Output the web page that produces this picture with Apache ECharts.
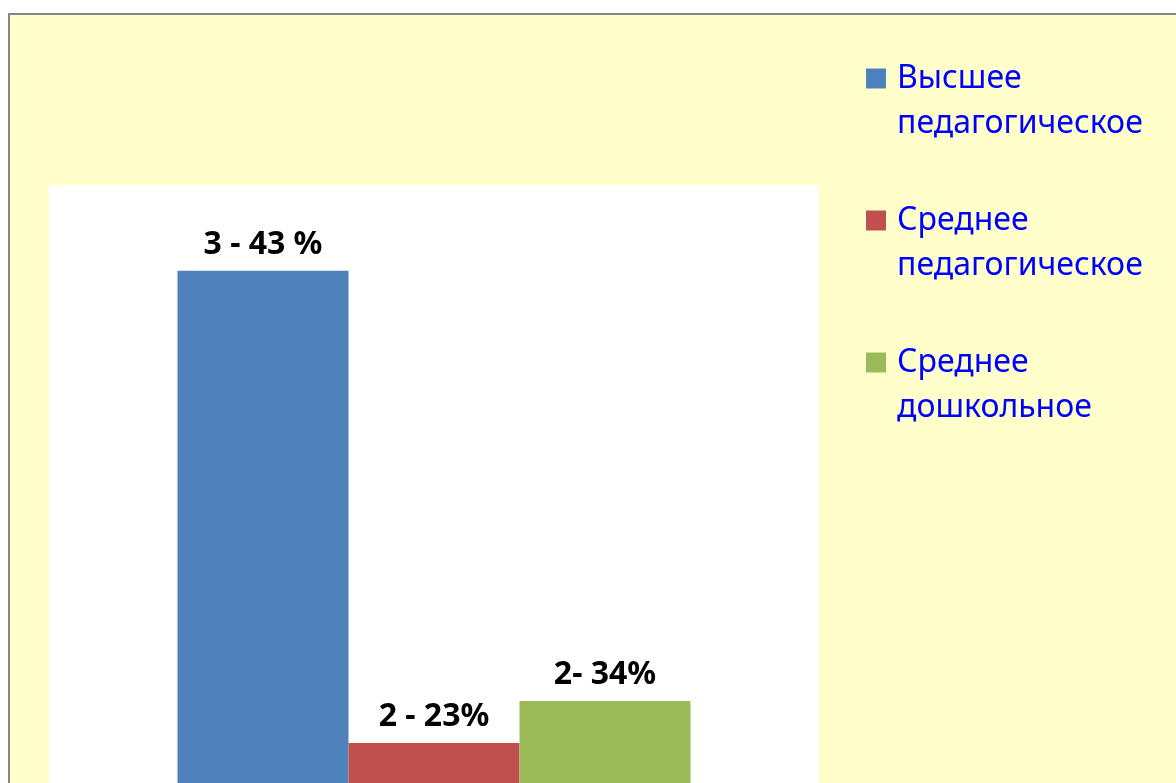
<!DOCTYPE html>
<html>
<head>
<meta charset="utf-8">
<script src="https://cdn.jsdelivr.net/npm/echarts@6/dist/echarts.min.js"></script>
<style>
  html, body { margin: 0; padding: 0; background: #fff; overflow: hidden; }
  #chart {
    position: absolute; left: 8px; top: 13px;
    width: 1168px; height: 770px;
    border-left: 2px solid #868686; border-top: 2px solid #868686;
    background: #FFFFCC;
  }
</style>
</head>
<body>
<div id="chart"></div>
<script>
// series names, bar heights (relative units) and label texts
const seriesNames = ['Высшее педагогическое', 'Среднее педагогическое', 'Среднее дошкольное'];
const barValues = [85.7, 7.0, 14.0];
const barLabels = ['3 - 43 %', '2 - 23%', '2- 34%'];
const colors = ['#4F81BD', '#C0504D', '#9BBB59'];

const chart = echarts.init(document.getElementById('chart'));

const series = seriesNames.map((name, i) => ({
  name,
  type: 'bar',
  data: [barValues[i]],
  barWidth: 171,
  barGap: '0%',
  itemStyle: { color: colors[i] },
  label: {
    show: true,
    position: 'top',
    distance: 10,
    formatter: () => barLabels[i],
    color: '#000',
    fontWeight: 'bold',
    fontSize: 32,
    fontFamily: 'Noto Sans'
  }
}));

chart.setOption({
  animation: false,
  grid: {
    left: 39, right: 359, top: 170, bottom: 0,
    show: true, backgroundColor: '#ffffff', borderWidth: 0
  },
  xAxis: {
    type: 'category',
    data: [''],
    axisLine: { show: false },
    axisTick: { show: false },
    axisLabel: { show: false }
  },
  yAxis: {
    type: 'value',
    min: 0,
    max: 100,
    axisLine: { show: false },
    axisTick: { show: false },
    axisLabel: { show: false },
    splitLine: { show: false }
  },
  legend: {
    orient: 'vertical',
    left: 856,
    top: -4,
    padding: 0,
    itemGap: 7,
    itemWidth: 20,
    itemHeight: 20,
    icon: 'rect',
    selectedMode: false,
    data: seriesNames,
    // blank first line keeps the first text line level with the icon
    formatter: name => '\n' + name.replace(' ', '\n'),
    textStyle: {
      color: '#0000FF',
      fontSize: 32,
      fontFamily: 'Noto Sans',
      lineHeight: 45,
      padding: [0, 0, 0, 6]
    }
  },
  series
});
</script>
</body>
</html>
